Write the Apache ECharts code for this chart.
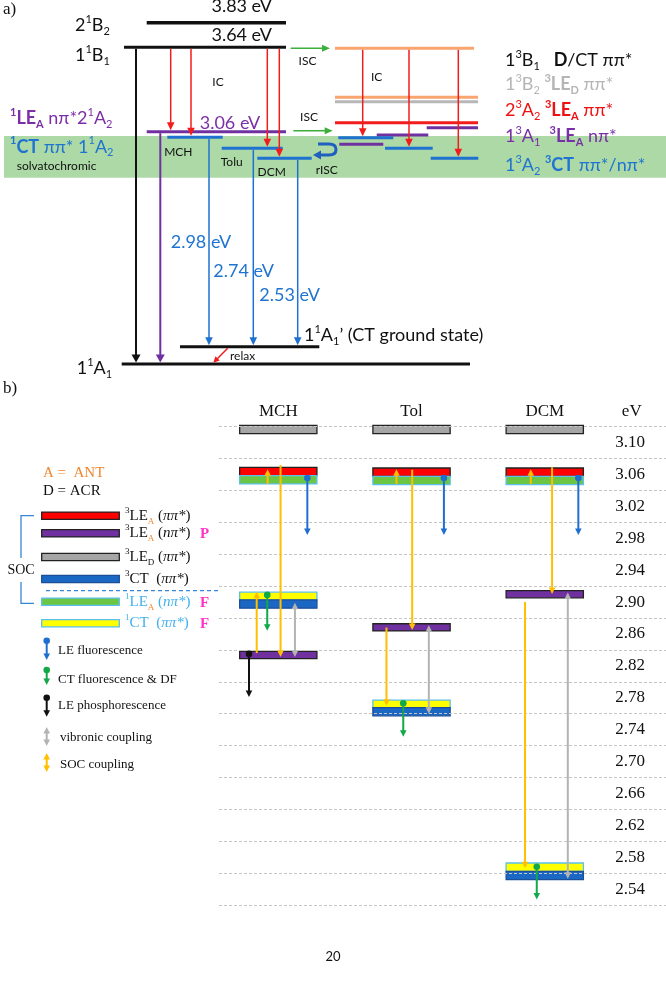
<!DOCTYPE html>
<html><head><meta charset="utf-8">
<script src="https://cdn.jsdelivr.net/npm/echarts@6.0.0/dist/echarts.min.js"></script>
<style>html,body{margin:0;padding:0;background:#fff;}#c{width:666px;height:1006px;}</style>
</head><body><div id="c"></div>
<script>
/* ================= Panel a: schematic state diagram ================= */
/* x = horizontal slot (schematic units), h = schematic energy height */
const aBand = [[4, 666, 244, 202.3]];             // solvatochromic region [x0, x1, h0, h1]
const aLevels = [                                  // [x0, x1, h, kind]
  [146.7, 286, 357.3, 'black'],   // 2¹B₂ 3.83 eV
  [124, 286, 332.7, 'black'],     // 1¹B₁ 3.64 eV
  [146.7, 286, 248.3, 'purple'],  // ¹LE_A 3.06 eV
  [167.3, 222.7, 242.7, 'blue'],  // ¹CT MCH
  [221.7, 282.7, 231.7, 'blue'],  // ¹CT Tolu
  [257.3, 311.7, 221.7, 'blue'],  // ¹CT DCM
  [180, 319.3, 33.3, 'black'],    // 1¹A₁' CT ground state
  [121.7, 470, 16, 'black'],      // 1¹A₁
  [335, 474, 331.7, 'orange'],    // 1³B₁
  [335, 478, 282.7, 'orange'],
  [335, 478, 278.3, 'gray'],      // 1³B₂
  [335, 478, 257.3, 'red'],       // 2³A₂
  [426.7, 478, 252.3, 'purple'],  // 1³A₁
  [376.7, 428.3, 245, 'purple'],
  [338.3, 393.3, 242.3, 'blue'],  // 1³A₂
  [339.3, 383.3, 235.7, 'purple'],
  [385, 432.7, 231.7, 'blue'],
  [430.7, 478.3, 221.7, 'blue']
];
const aVArrows = [                                 // [x, hFrom, hTo, kind]
  [136, 332.7, 16, 'black'], [160.3, 248.3, 16, 'purple'],
  [170.7, 332.7, 248.3, 'red'], [191, 332.7, 242.7, 'red'], [267.3, 332.7, 231.7, 'red'], [279.3, 332.7, 221.7, 'red'],
  [209, 242.7, 33.3, 'blue'], [253.3, 231.7, 33.3, 'blue'], [297.7, 221.7, 33.3, 'blue'],
  [362.7, 331.7, 242.3, 'red'], [409, 331.7, 231.7, 'red'], [458.3, 331.7, 221.7, 'red']
];
const aHArrows = [[290.7, 330, 331.7, 'green'], [293.3, 332.7, 249.3, 'green']]; // [xFrom, xTo, h, kind]
const aRelax = [[227.7, 31.7, 213.3, 17.3]];       // [x0, h0, x1, h1]
const aRisc = [[313, 229]];                         // rISC loop anchor
const aTexts = [                                    // [x, h, markup, color, size, align]
  [3, 370, '{n|a)}', 'black', 'serif', 'left'],
  [241.7, 374, '{n|3.83 eV}', 'black', 'L', 'center'],
  [241.7, 345, '{n|3.64 eV}', 'black', 'L', 'center'],
  [75, 355, '{n|2}{sup|1}{n|B}{sub|2}', 'black', 'L', 'left'],
  [75, 325, '{n|1}{sup|1}{n|B}{sub|1}', 'black', 'L', 'left'],
  [218, 298.3, '{n|IC}', 'black', 'S', 'center'],
  [230, 257.3, '{n|3.06 eV}', 'purple', 'L', 'center'],
  [10, 261.7, '{bsup|1}{b|LE}{bsub|A}{n| nπ*2}{sup|1}{n|A}{sub|2}', 'purple', 'L', 'left'],
  [10, 233.3, '{bsup|1}{b|CT}{n| ππ* 1}{sup|1}{n|A}{sub|2}', 'blue', 'L', 'left'],
  [16.7, 214.3, '{n|solvatochromic}', 'black', 'S', 'left'],
  [178.3, 228.3, '{n|MCH}', 'black', 'S', 'center'],
  [231.7, 218.3, '{n|Tolu}', 'black', 'S', 'center'],
  [271.7, 208.3, '{n|DCM}', 'black', 'S', 'center'],
  [307.5, 319, '{n|ISC}', 'black', 'S', 'center'],
  [309, 262.7, '{n|ISC}', 'black', 'S', 'center'],
  [376.7, 303.3, '{n|IC}', 'black', 'S', 'center'],
  [326.7, 210, '{n|rISC}', 'black', 'S', 'center'],
  [170.7, 138.3, '{n|2.98 eV}', 'blue', 'L', 'left'],
  [213.3, 109.3, '{n|2.74 eV}', 'blue', 'L', 'left'],
  [259.3, 85, '{n|2.53 eV}', 'blue', 'L', 'left'],
  [304, 45, '{n|1}{sup|1}{n|A}{sub|1}{n|’ (CT ground state)}', 'black', 'L', 'left'],
  [230, 24, '{n|relax}', 'black', 'S', 'left'],
  [76.7, 11.7, '{n|1}{sup|1}{n|A}{sub|1}', 'black', 'L', 'left'],
  [505, 320, '{n|1}{sup|3}{n|B}{sub|1}{n|   }{b|D}{n|/CT ππ*}', 'black', 'L', 'left'],
  [505, 296, '{n|1}{sup|3}{n|B}{sub|2}{n| }{bsup|3}{b|LE}{bsub|D}{n| ππ*}', 'gray', 'L', 'left'],
  [505, 270, '{n|2}{sup|3}{n|A}{sub|2}{n| }{bsup|3}{b|LE}{bsub|A}{n| ππ*}', 'red', 'L', 'left'],
  [505, 244, '{n|1}{sup|3}{n|A}{sub|1}{n|  }{bsup|3}{b|LE}{bsub|A}{n| nπ*}', 'purple', 'L', 'left'],
  [505, 215, '{n|1}{sup|3}{n|A}{sub|2}{n| }{bsup|3}{b|CT}{n| ππ*/nπ*}', 'blue', 'L', 'left']
];

/* ================= Panel b: energy levels per solvent ================= */
const solvents = ['MCH', 'Tol', 'DCM'];
const eVTicks = ['3.10','3.06','3.02','2.98','2.94','2.90','2.86','2.82','2.78','2.74','2.70','2.66','2.62','2.58','2.54'];
const bLevels = [                                   // [solvent index, energy (eV), state]
  [0, 3.1165, 'LED3'], [0, 3.0638, 'LEA3pp'], [0, 3.0534, 'LEA1'], [0, 2.9072, 'CT1'], [0, 2.8976, 'CT3'], [0, 2.8336, 'LEA3np'],
  [1, 3.1165, 'LED3'], [1, 3.0630, 'LEA3pp'], [1, 3.0525, 'LEA1'], [1, 2.8683, 'LEA3np'], [1, 2.7719, 'CT1'], [1, 2.7625, 'CT3'],
  [2, 3.1165, 'LED3'], [2, 3.0630, 'LEA3pp'], [2, 3.0525, 'LEA1'], [2, 2.9099, 'LEA3np'], [2, 2.5675, 'CT1'], [2, 2.5571, 'CT3']
];
const bArrows = [                                   // [x (solvent units), eV from, eV to, process]
  [-0.080, 3.048, 3.0666, 'SOC'], [0.017, 3.072, 2.831, 'SOC'], [0.218, 3.0555, 2.984, 'LEF'],
  [-0.162, 2.836, 2.913, 'SOC'], [-0.083, 2.909, 2.864, 'CTF'], [0.125, 2.899, 2.831, 'VIB'], [-0.220, 2.835, 2.781, 'LEP'],
  [0.887, 3.048, 3.0666, 'SOC'], [1.005, 3.066, 2.865, 'SOC'], [1.243, 3.0555, 2.984, 'LEF'],
  [0.812, 2.868, 2.770, 'SOC'], [1.130, 2.871, 2.760, 'VIB'], [0.938, 2.773, 2.731, 'CTF'],
  [1.895, 3.048, 3.0666, 'SOC'], [2.055, 3.069, 2.910, 'SOC'], [2.252, 3.0555, 2.984, 'LEF'],
  [1.852, 2.900, 2.566, 'SOC'], [2.173, 2.912, 2.553, 'VIB'], [1.940, 2.568, 2.527, 'CTF']
];

/* ================= styles ================= */
const SANS = 'Lato', SERIF = 'Liberation Serif';
const aCol = {black:'#111111', purple:'#7030a0', blue:'#1f72cf', red:'#f21c1c', orange:'#f8a56f', gray:'#b7b7b7', green:'#3cae3a'};
const aTextCol = {black:'#111111', purple:'#7a2fa8', blue:'#1f74d1', red:'#ee1111', gray:'#b5b5b5'};
const boxStyle = {
  LED3:{fill:'#a6a6a6', stroke:'#222'}, LEA3pp:{fill:'#ff0000', stroke:'#222'}, LEA3np:{fill:'#7030a0', stroke:'#222'},
  CT3:{fill:'#1b67c4', stroke:'#1d4f98'}, LEA1:{fill:'#6cc644', stroke:'#5bc0eb'}, CT1:{fill:'#ffff00', stroke:'#5bc0eb'}
};
const procStyle = {
  SOC:{color:'#ffbf00'}, LEF:{color:'#1f6fd0', dot:true}, CTF:{color:'#13a84a', dot:true},
  LEP:{color:'#111111', dot:true}, VIB:{color:'#b3b3b3', both:true}
};

function rich(size, fam, color) {
  const sm = Math.round(size * 0.62), lh = Math.round(size * 1.3);
  const b = {fontFamily:fam, fontSize:size, fill:color, color:color, lineHeight:lh};
  const s = {fontFamily:fam, fontSize:sm, fill:color, color:color, lineHeight:sm};
  return {
    n: Object.assign({}, b), b: Object.assign({}, b, {fontWeight:'bold'}),
    i: Object.assign({}, b, {fontStyle:'italic'}),
    sup: Object.assign({}, s, {verticalAlign:'top'}), sub: Object.assign({}, s, {verticalAlign:'bottom'}),
    bsup: Object.assign({}, s, {verticalAlign:'top', fontWeight:'bold'}),
    bsub: Object.assign({}, s, {verticalAlign:'bottom', fontWeight:'bold'}),
    osub: Object.assign({}, s, {verticalAlign:'bottom', fill:'#f0862e', color:'#f0862e'}),
    m: Object.assign({}, b, {fill:'#ff33cc', color:'#ff33cc', fontWeight:'bold'})
  };
}
function textEl(x, y, markup, size, fam, color, align) {
  return {type:'text', x:x, y:y, style:{text:markup, rich:rich(size, fam, color), fontSize:size, fontFamily:fam,
    fill:color, align:align, textAlign:align, verticalAlign:'middle', textVerticalAlign:'middle'}};
}
function arrowEls(x1, y1, x2, y2, o) {
  const col = o.color, lw = o.lw || 1.5, hl = o.hl || 7, hw = o.hw || 3.5;
  const dx = x2 - x1, dy = y2 - y1, L = Math.hypot(dx, dy) || 1, ux = dx / L, uy = dy / L, px = -uy, py = ux;
  let sx = x1, sy = y1, ex = x2, ey = y2;
  const ch = [];
  const head = (tx, ty, vx, vy) => ({type:'polygon', shape:{points:[[tx, ty],
    [tx - vx * hl + px * hw, ty - vy * hl + py * hw], [tx - vx * hl - px * hw, ty - vy * hl - py * hw]]}, style:{fill:col}});
  if (o.end !== false) { ex = x2 - ux * hl * 0.7; ey = y2 - uy * hl * 0.7; ch.push(head(x2, y2, ux, uy)); }
  if (o.both) { sx = x1 + ux * hl * 0.7; sy = y1 + uy * hl * 0.7; ch.push(head(x1, y1, -ux, -uy)); }
  ch.unshift({type:'line', shape:{x1:sx, y1:sy, x2:ex, y2:ey}, style:{stroke:col, lineWidth:lw}});
  if (o.dot) ch.push({type:'circle', shape:{cx:x1, cy:y1, r:o.dot}, style:{fill:col}});
  return ch;
}

/* ================= series ================= */
const series = [];
const A = {xAxisIndex:0, yAxisIndex:0, silent:true, animation:false, clip:false};
const B = {xAxisIndex:1, yAxisIndex:1, silent:true, animation:false, clip:false};

series.push(Object.assign({type:'custom', z:1, data:aBand.map(d => [d[0], d[2]]), renderItem:(p, api) => {
  const d = aBand[p.dataIndex]; const a = api.coord([d[0], d[2]]), b = api.coord([d[1], d[3]]);
  return {type:'rect', shape:{x:a[0], y:a[1], width:b[0] - a[0], height:b[1] - a[1]}, style:{fill:'#acd9a6'}};
}}, A));
series.push(Object.assign({type:'custom', z:2, data:aLevels.map(d => [d[0], d[2]]), renderItem:(p, api) => {
  const d = aLevels[p.dataIndex]; const a = api.coord([d[0], d[2]]), b = api.coord([d[1], d[2]]);
  return {type:'line', shape:{x1:a[0], y1:a[1], x2:b[0], y2:b[1]}, style:{stroke:aCol[d[3]], lineWidth:d[2] > 350 ? 3.5 : 3}};
}}, A));
series.push(Object.assign({type:'custom', z:3, data:aVArrows.map(d => [d[0], d[1]]), renderItem:(p, api) => {
  const d = aVArrows[p.dataIndex]; const a = api.coord([d[0], d[1]]), b = api.coord([d[0], d[2]]);
  const thick = d[3] === 'black' || d[3] === 'purple';
  return {type:'group', children:arrowEls(a[0], a[1] + 1.5, b[0], b[1] - 1.5, {color:aCol[d[3]], lw:thick ? 2 : 1.5, hl:8, hw:thick ? 4.5 : 3.8})};
}}, A));
series.push(Object.assign({type:'custom', z:3, data:aHArrows.map(d => [d[0], d[2]]), renderItem:(p, api) => {
  const d = aHArrows[p.dataIndex]; const a = api.coord([d[0], d[2]]), b = api.coord([d[1], d[2]]);
  return {type:'group', children:arrowEls(a[0], a[1], b[0], b[1], {color:aCol[d[3]], lw:1.5, hl:8, hw:3.5})};
}}, A));
series.push(Object.assign({type:'custom', z:3, data:aRelax.map(d => [d[0], d[1]]), renderItem:(p, api) => {
  const d = aRelax[p.dataIndex]; const a = api.coord([d[0], d[1]]), b = api.coord([d[2], d[3]]);
  return {type:'group', children:arrowEls(a[0], a[1], b[0], b[1], {color:'#f21c1c', lw:1.5, hl:6, hw:3})};
}}, A));
series.push(Object.assign({type:'custom', z:3, data:aRisc, renderItem:(p, api) => {
  const c = api.coord(aRisc[p.dataIndex]); const x = c[0], y = c[1], col = '#1f5fbf';
  return {type:'group', children:[
    {type:'path', shape:{pathData:`M${x + 5} ${y - 7} L${x + 16} ${y - 7} Q${x + 23} ${y - 7} ${x + 23} ${y - 1.5} Q${x + 23} ${y + 4} ${x + 16} ${y + 4} L${x + 6} ${y + 4}`},
      style:{stroke:col, lineWidth:3, fill:null}},
    {type:'polygon', shape:{points:[[x, y + 4], [x + 8, y - 0.5], [x + 8, y + 8.5]]}, style:{fill:col}}
  ]};
}}, A));
series.push(Object.assign({type:'custom', z:5, data:aTexts.map(d => [d[0], d[1]]), renderItem:(p, api) => {
  const d = aTexts[p.dataIndex]; const c = api.coord([d[0], d[1]]);
  const size = d[4] === 'L' ? 18 : d[4] === 'S' ? 12 : 17;
  const fam = d[4] === 'serif' ? SERIF : SANS;
  return textEl(c[0], c[1], d[2], size, fam, aTextCol[d[3]], d[5]);
}}, A));

/* panel b */
const boxHalf = 0.29;
series.push(Object.assign({type:'custom', z:2, data:bLevels.map(d => [d[0], d[1]]), renderItem:(p, api) => {
  const d = bLevels[p.dataIndex]; const a = api.coord([d[0] - boxHalf, d[1]]), b = api.coord([d[0] + boxHalf, d[1]]);
  const st = boxStyle[d[2]]; const h = d[2] === 'LEA3np' ? 7.2 : 8.3;
  return {type:'rect', shape:{x:a[0], y:a[1] - h / 2, width:b[0] - a[0], height:h}, style:{fill:st.fill, stroke:st.stroke, lineWidth:1.3}};
}}, B));
series.push(Object.assign({type:'custom', z:4, data:bArrows.map(d => [d[0], d[1]]), renderItem:(p, api) => {
  const d = bArrows[p.dataIndex]; const a = api.coord([d[0], d[1]]), b = api.coord([d[0], d[2]]);
  const s = procStyle[d[3]];
  return {type:'group', children:arrowEls(a[0], a[1], b[0], b[1], {color:s.color, lw:2, hl:6.5, hw:3.3, dot:s.dot ? 3.3 : 0, both:s.both})};
}}, B));
series.push(Object.assign({type:'custom', z:5, data:solvents.map((s, i) => [i, 3.1388]), renderItem:(p, api) => {
  const c = api.coord([p.dataIndex, 3.1388]);
  return textEl(c[0], c[1], '{n|' + solvents[p.dataIndex] + '}', 17, SERIF, '#111', 'center');
}}, B));
series.push(Object.assign({type:'custom', z:5, data:[[2.653, 3.1388]], renderItem:(p, api) => {
  const c = api.coord([2.653, 3.1388]);
  return textEl(c[0], c[1], '{n|eV}', 17, SERIF, '#111', 'center');
}}, B));
series.push(Object.assign({type:'custom', z:5, data:eVTicks.map(t => [2.64, parseFloat(t)]), renderItem:(p, api) => {
  const c = api.coord([2.64, parseFloat(eVTicks[p.dataIndex])]);
  return textEl(c[0], c[1], '{n|' + eVTicks[p.dataIndex] + '}', 17, SERIF, '#111', 'center');
}}, B));

/* ================= legend of panel b (static key) ================= */
const g = [];
g.push(textEl(3, 389, '{n|b)}', 17, SERIF, '#111', 'left'));
g.push(textEl(43, 473, '{n|A =  ANT}', 15, SERIF, '#f0862e', 'left'));
g.push(textEl(43, 491, '{n|D = ACR}', 15, SERIF, '#111', 'left'));
const keyRows = [
  ['LEA3pp', 515.7, '{sup|3}{n|LE}{osub|A}{n| (}{i|ππ*}{n|)}', '#111', ''],
  ['LEA3np', 533.3, '{sup|3}{n|LE}{osub|A}{n| (}{i|nπ*}{n|)}', '#111', 'P'],
  ['LED3', 557, '{sup|3}{n|LE}{sub|D}{n| (}{i|ππ*}{n|)}', '#111', ''],
  ['CT3', 579, '{sup|3}{n|CT  (}{i|ππ*}{n|)}', '#111', ''],
  ['LEA1', 601.7, '{sup|1}{n|LE}{osub|A}{n| (}{i|nπ*}{n|)}', '#3fb0ee', 'F'],
  ['CT1', 623.3, '{sup|1}{n|CT  (}{i|ππ*}{n|)}', '#3fb0ee', 'F']
];
keyRows.forEach(r => {
  const st = boxStyle[r[0]];
  g.push({type:'rect', shape:{x:41.7, y:r[1] - 3.6, width:77.6, height:7.2}, style:{fill:st.fill, stroke:st.stroke, lineWidth:1.3}});
  g.push(textEl(125, r[1], r[2], 15, SERIF, r[3], 'left'));
  if (r[4]) g.push(textEl(200, r[1] + 1, '{m|' + r[4] + '}', 15, SERIF, '#ff33cc', 'left'));
});
g.push({type:'line', shape:{x1:46, y1:590.7, x2:220, y2:590.7}, style:{stroke:'#3a86d6', lineWidth:1.3, lineDash:[4, 3]}});
g.push({type:'polyline', shape:{points:[[34, 515.7], [21, 515.7], [21, 558]]}, style:{stroke:'#3a86d6', lineWidth:1.3, fill:null}});
g.push({type:'polyline', shape:{points:[[21, 582], [21, 603.3], [34, 603.3]]}, style:{stroke:'#3a86d6', lineWidth:1.3, fill:null}});
g.push(textEl(21, 570, '{n|SOC}', 14, SERIF, '#111', 'center'));
const keyArrows = [
  ['LEF', 640.7, 660, 650.7, 'LE fluorescence', 58],
  ['CTF', 670, 685, 679.3, 'CT fluorescence & DF', 58],
  ['LEP', 697.7, 716.7, 706, 'LE phosphorescence', 58],
  ['VIB', 727, 746, 737.3, 'vibronic coupling', 60],
  ['SOCB', 753, 772, 765, 'SOC coupling', 60]
];
keyArrows.forEach(r => {
  const s = r[0] === 'SOCB' ? {color:'#ffbf00', both:true} : procStyle[r[0]];
  g.push({type:'group', children:arrowEls(46.7, r[1], 46.7, r[2], {color:s.color, lw:2, hl:6.5, hw:3.3, dot:s.dot ? 3.3 : 0, both:s.both})});
  g.push(textEl(r[5], r[3], '{n|' + r[4] + '}', 13, SERIF, '#111', 'left'));
});
g.push(textEl(333, 957, '{n|20}', 13, SANS, '#111', 'center'));

const chart = echarts.init(document.getElementById('c'), null, {renderer:'canvas'});
chart.setOption({
  animation:false,
  backgroundColor:'#ffffff',
  grid:[
    {left:0, top:0, width:666, height:380},
    {left:219, top:426.7, width:447, height:478.3}
  ],
  xAxis:[
    {type:'value', gridIndex:0, min:0, max:666, show:false},
    {type:'value', gridIndex:1, min:-0.445, max:2.91, show:false}
  ],
  yAxis:[
    {type:'value', gridIndex:0, min:0, max:380, show:false},
    {type:'value', gridIndex:1, min:2.52, max:3.12, interval:0.04, z:3, axisLine:{show:false}, axisTick:{show:false},
      axisLabel:{show:false}, splitLine:{show:true, lineStyle:{color:'#c6c6c6', type:[3, 2], width:1}}}
  ],
  series:series,
  graphic:{elements:g}
});
</script></body></html>
